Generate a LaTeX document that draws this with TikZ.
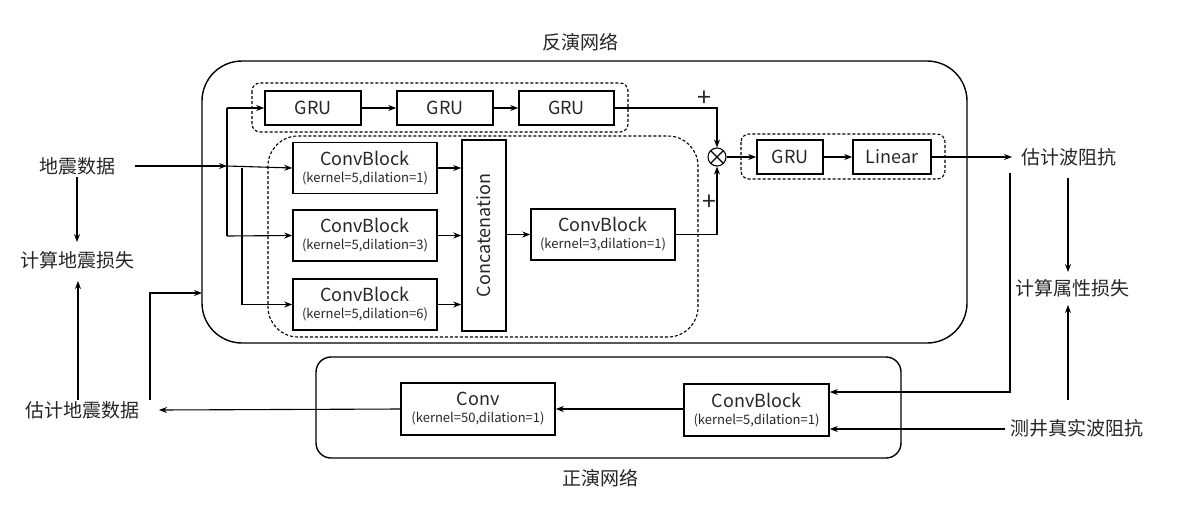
\documentclass[tikz,border=0pt]{standalone}
\usepackage{fontspec}
\setmainfont{Noto Sans CJK SC}
\usetikzlibrary{arrows.meta,calc}
\newcommand{\parsz}{\fontsize{13}{15}\selectfont}
\tikzset{
  line/.style={line width=1.1pt, draw=black},
  arr/.style={line, -{Stealth[length=8pt,width=6pt]}},
  blk/.style={draw=black, line width=1.6pt, minimum height=34pt, inner sep=0pt, text=black!85, font=\fontsize{18}{20}\selectfont},
  cblk/.style={draw=black, line width=1.6pt, minimum width=144pt, minimum height=51pt, inner sep=0pt, align=center, text=black!85, font=\fontsize{18}{20}\selectfont},
  lbl/.style={font=\fontsize{19}{21}\selectfont, inner sep=0pt, text=black!85},
  grp/.style={draw=black, line width=1.1pt, dash pattern=on 3pt off 2pt},
  plus/.style={font=\fontsize{25}{25}\selectfont, inner sep=0pt, text=black!85}
}
\begin{document}
\begin{tikzpicture}[x=1pt,y=-1pt]
\useasboundingbox (0,0) rectangle (1177,512);
% big boxes
\draw[line width=1.4pt, rounded corners=40pt] (202,61) rectangle (967,343);
\node[lbl] (tinv) at (580,42) {反演网络};
\draw[line width=1.4pt, rounded corners=15pt] (316,357) rectangle (901,458);
\node[lbl] (tfwd) at (600,478) {正演网络};
% dashed groups
\draw[grp, rounded corners=8pt] (252,83) rectangle (628,132);
\draw[grp, rounded corners=30pt] (268,136) rectangle (698,337);
\draw[grp, rounded corners=8pt] (741,134) rectangle (945,179);
% GRU chain
\node[blk, minimum width=96pt] (g1) at (313,108) {GRU};
\node[blk, minimum width=96pt] (g2) at (445,108) {GRU};
\node[blk, minimum width=95pt] (g3) at (566.5,108) {GRU};
% conv blocks
\node[cblk] (c1) at (365,168) {ConvBlock\\[-3pt]{\parsz(kernel=5,dilation=1)}};
\node[cblk] (c2) at (365,235.5) {ConvBlock\\[-3pt]{\parsz(kernel=5,dilation=3)}};
\node[cblk] (c3) at (365,304.5) {ConvBlock\\[-3pt]{\parsz(kernel=5,dilation=6)}};
\node[draw=black, line width=1.6pt, minimum width=44pt, minimum height=191pt, inner sep=0pt] (cat) at (484,235.5) {};
\node[rotate=90, text=black!85, font=\fontsize{18}{20}\selectfont] (cattxt) at (cat.center) {Concatenation};
\node[cblk] (c4) at (603,234.5) {ConvBlock\\[-3pt]{\parsz(kernel=3,dilation=1)}};
% otimes
\node[draw=black, line width=1.1pt, circle, minimum size=18pt, inner sep=0pt] (ot) at (717,157) {};
\draw[line width=1.1pt] ($(ot.center)+(-6.36pt,-6.36pt)$) -- ($(ot.center)+(6.36pt,6.36pt)$)
                        ($(ot.center)+(-6.36pt,6.36pt)$) -- ($(ot.center)+(6.36pt,-6.36pt)$);
\node[blk, minimum width=66pt] (g4) at (790,157) {GRU};
\node[blk, minimum width=78pt] (lin) at (892,157) {Linear};
% forward
\node[cblk, minimum width=154pt, minimum height=52pt] (cv) at (478,409) {Conv\\[-3pt]{\parsz(kernel=50,dilation=1)}};
\node[cblk, minimum width=145pt, minimum height=52pt] (c5) at (756.5,410) {ConvBlock\\[-3pt]{\parsz(kernel=5,dilation=1)}};
% side labels
\node[lbl] (sd) at (77,166) {地震数据};
\node[lbl] (sl) at (77,260) {计算地震损失};
\node[lbl] (es) at (82,410) {估计地震数据};
\node[lbl] (ei) at (1069,157) {估计波阻抗};
\node[lbl] (al) at (1072,288) {计算属性损失};
\node[lbl] (wi) at (1077,428) {测井真实波阻抗};
% plus labels
\node[plus] (p1) at (704,99) {+};
\node[plus] (p2) at (709,203) {+};
% coordinates
\coordinate (a0) at (135,166);
\coordinate (j1) at (227,166);
\coordinate (jt) at (227,108);
\coordinate (jb) at (227,236);
\coordinate (k1) at (242,168);
\coordinate (eo) at (1012,157);
\coordinate (v1) at (1010,173);
\coordinate (v2) at (1010,392);
\coordinate (w0) at (1005,429);
\coordinate (es1) at (159,410);
\coordinate (u1) at (150,400);
\coordinate (u2) at (150,293);
\coordinate (bx) at (202,293);
\coordinate (s1) at (78,400);
\coordinate (s2) at (78,281);
\coordinate (d1) at (77,177);
\coordinate (d2) at (77,242);
\coordinate (e1) at (1068,178);
\coordinate (e2) at (1068,272);
\coordinate (f1) at (1068,400);
\coordinate (f2) at (1068,305);
% connectors
\draw[arr] (a0) -- (j1);
\draw[line] (jt) -- (jb);
\draw[arr] (jt) -- (g1.west);
\draw[arr] (jb) -- (c2.west);
\draw[arr] (j1) -- (c1.west);
\draw[arr] (k1) |- (c3.west);
\draw[arr] (g1) -- (g2);
\draw[arr] (g2) -- (g3);
\draw[arr] (g3.east) -| (ot.north);
\draw[arr] (c1.east) -- (c1.east -| cat.west);
\draw[arr] (c2.east) -- (c2.east -| cat.west);
\draw[arr] (c3.east) -- (c3.east -| cat.west);
\draw[arr] (c4.west -| cat.east) -- (c4.west);
\draw[arr] (c4.east) -| (ot.south);
\draw[arr] (ot.east) -- (g4.west);
\draw[arr] (g4) -- (lin);
\draw[arr] (lin.east) -- (eo);
\draw[arr] (v1) -- (v2) -- (v2 -| c5.east);
\draw[arr] (w0) -- (w0 -| c5.east);
\draw[arr] (c5.west |- cv.east) -- (cv.east);
\draw[arr] (cv.west) -- (es1);
\draw[arr] (u1) -- (u2) -- (bx);
\draw[arr] (s1) -- (s2);
\draw[arr] (d1) -- (d2);
\draw[arr] (e1) -- (e2);
\draw[arr] (f1) -- (f2);
\end{tikzpicture}
\end{document}
